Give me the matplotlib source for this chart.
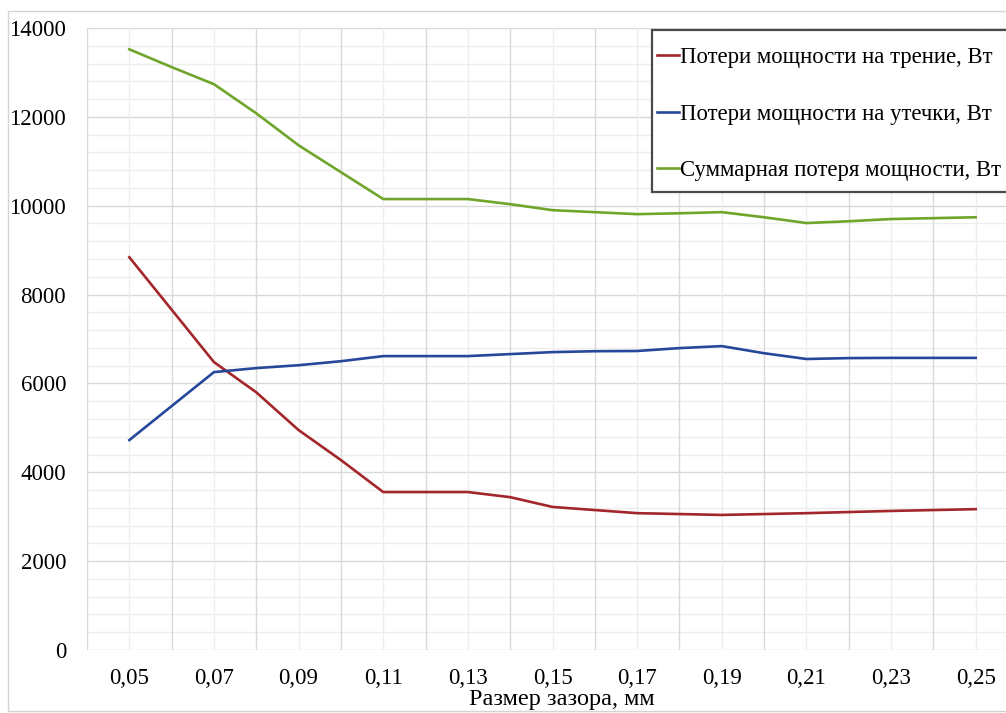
import matplotlib
matplotlib.use("Agg")
import matplotlib.pyplot as plt
from matplotlib.patches import Rectangle
from matplotlib.ticker import MultipleLocator, FixedLocator

gap_mm = [0.05, 0.06, 0.07, 0.08, 0.09, 0.10, 0.11, 0.12, 0.13, 0.14, 0.15,
          0.16, 0.17, 0.18, 0.19, 0.20, 0.21, 0.22, 0.23, 0.24, 0.25]
friction_w = [8840, 7660, 6480, 5800, 4950, 4275, 3555, 3555, 3555, 3440, 3220,
              3150, 3080, 3060, 3040, 3060, 3080, 3105, 3130, 3150, 3170]
leakage_w = [4725, 5490, 6255, 6345, 6410, 6500, 6615, 6615, 6615, 6660, 6705,
             6725, 6730, 6795, 6840, 6680, 6550, 6570, 6575, 6575, 6575]
total_w = [13520, 13120, 12735, 12080, 11360, 10755, 10150, 10150, 10150, 10035, 9900,
           9855, 9810, 9830, 9855, 9740, 9610, 9650, 9700, 9720, 9740]
tick_values = [0.05, 0.07, 0.09, 0.11, 0.13, 0.15, 0.17, 0.19, 0.21, 0.23, 0.25]
tick_labels = ["0,05", "0,07", "0,09", "0,11", "0,13", "0,15", "0,17", "0,19", "0,21", "0,23", "0,25"]
minor_x = [0.06, 0.08, 0.10, 0.12, 0.14, 0.16, 0.18, 0.20, 0.22, 0.24]
series_labels = ["Потери мощности на трение, Вт",
                 "Потери мощности на утечки, Вт",
                 "Суммарная потеря мощности, Вт"]
xlabel = "Размер зазора, мм"

plt.rcParams['font.family'] = ['Liberation Serif', 'DejaVu Serif']

W, H = 1006, 713
fig = plt.figure(figsize=(W / 100, H / 100), dpi=100)
fig.patch.set_facecolor('white')

# outer chart frame
fig.patches.append(Rectangle((8 / W, 1 - 711 / H), 1.2, (711 - 11) / H,
                             transform=fig.transFigure, fill=False,
                             edgecolor='#D4D4D4', linewidth=1.0, zorder=-1))

left, top, bottom, right = 87, 28, 650, 1018
ax = fig.add_axes([left / W, 1 - bottom / H, (right - left) / W, (bottom - top) / H])

ax.plot(gap_mm, friction_w, color='#A3262A', lw=1.9, label=series_labels[0], zorder=3)
ax.plot(gap_mm, leakage_w, color='#27479B', lw=1.9, label=series_labels[1], zorder=3)
ax.plot(gap_mm, total_w, color='#6FA52B', lw=1.9, label=series_labels[2], zorder=3)

ax.set_xlim(0.04, 0.26)
ax.set_ylim(0, 14000)

ax.xaxis.set_major_locator(FixedLocator(tick_values))
ax.set_xticklabels(tick_labels)
ax.yaxis.set_major_locator(MultipleLocator(2000))
ax.yaxis.set_minor_locator(MultipleLocator(400))

# gridlines
for v in minor_x:
    ax.axvline(v, color='#D9D9D9', lw=1.0, zorder=1)
for v in tick_values:
    ax.axvline(v, color='#EEEEEE', lw=1.0, zorder=0.9)
ax.grid(True, which='major', axis='y', color='#D9D9D9', lw=1.0, zorder=1)
ax.grid(True, which='minor', axis='y', color='#EEEEEE', lw=1.0, zorder=0.9)
ax.grid(False, axis='x')
ax.set_axisbelow(True)

for s in ax.spines.values():
    s.set_visible(False)
ax.axvline(0.04, color='#D9D9D9', lw=1.0, zorder=1)

ax.tick_params(which='both', length=0)
ax.tick_params(axis='y', labelsize=16.5, pad=15, colors='black')
ax.tick_params(axis='x', labelsize=16.5, pad=13, colors='black')

ax.set_xlabel(xlabel, fontsize=17.5)
ax.xaxis.set_label_coords(562 / W, 1 - 689 / H, transform=fig.transFigure)

# legend frame drawn separately
ax.add_patch(Rectangle((652 / W, 1 - 192 / H), 0.5, (192 - 30) / H,
                       transform=fig.transFigure, facecolor='white',
                       edgecolor='#4A4A4A', linewidth=1.6, zorder=4,
                       clip_on=False))
leg = ax.legend(loc='upper left', bbox_to_anchor=(657 / W, 1 - 47 / H),
                bbox_transform=fig.transFigure, borderaxespad=0,
                fontsize=16.4, handlelength=0.95, handletextpad=0.05,
                labelspacing=1.56, borderpad=0, frameon=False)
leg.set_zorder(5)

fig.savefig("out.png", dpi=100)
